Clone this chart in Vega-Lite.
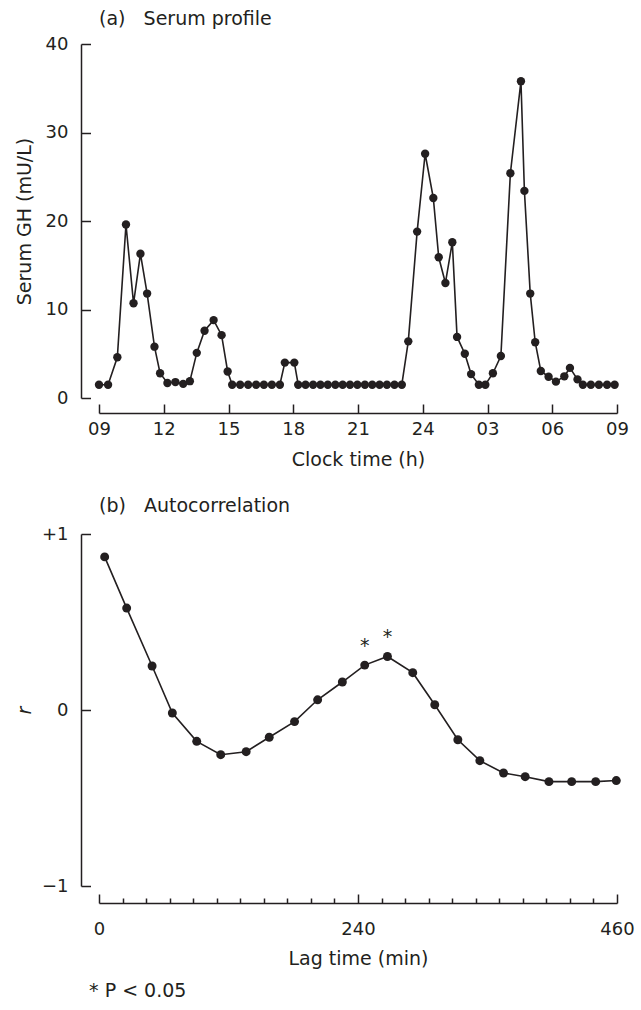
{
  "$schema": "https://vega.github.io/schema/vega-lite/v6.json",
  "padding": {"left": 15, "top": 10, "right": 10, "bottom": 6},
  "spacing": 28,
  "title": {"text": "* P < 0.05", "orient": "bottom", "anchor": "start", "frame": "bounds", "dx": 74, "offset": 14, "fontSize": 19},
  "datasets": {
    "serum": [
      {"t": 0.00, "gh": 1.5}, {"t": 0.42, "gh": 1.5}, {"t": 0.85, "gh": 4.6}, {"t": 1.25, "gh": 19.6},
      {"t": 1.60, "gh": 10.7}, {"t": 1.92, "gh": 16.3}, {"t": 2.23, "gh": 11.8}, {"t": 2.57, "gh": 5.8},
      {"t": 2.83, "gh": 2.8}, {"t": 3.17, "gh": 1.7}, {"t": 3.54, "gh": 1.8}, {"t": 3.90, "gh": 1.6},
      {"t": 4.21, "gh": 1.9}, {"t": 4.53, "gh": 5.1}, {"t": 4.89, "gh": 7.6}, {"t": 5.31, "gh": 8.8},
      {"t": 5.68, "gh": 7.1}, {"t": 5.96, "gh": 3.0}, {"t": 6.17, "gh": 1.5}, {"t": 6.54, "gh": 1.5},
      {"t": 6.91, "gh": 1.5}, {"t": 7.28, "gh": 1.5}, {"t": 7.64, "gh": 1.5}, {"t": 8.01, "gh": 1.5},
      {"t": 8.38, "gh": 1.5}, {"t": 8.61, "gh": 4.0}, {"t": 9.05, "gh": 4.0}, {"t": 9.23, "gh": 1.5},
      {"t": 9.57, "gh": 1.5}, {"t": 9.92, "gh": 1.5}, {"t": 10.26, "gh": 1.5}, {"t": 10.60, "gh": 1.5},
      {"t": 10.95, "gh": 1.5}, {"t": 11.29, "gh": 1.5}, {"t": 11.63, "gh": 1.5}, {"t": 11.97, "gh": 1.5},
      {"t": 12.32, "gh": 1.5}, {"t": 12.66, "gh": 1.5}, {"t": 13.00, "gh": 1.5}, {"t": 13.34, "gh": 1.5},
      {"t": 13.69, "gh": 1.5}, {"t": 14.03, "gh": 1.5}, {"t": 14.33, "gh": 6.4}, {"t": 14.74, "gh": 18.8},
      {"t": 15.11, "gh": 27.6}, {"t": 15.49, "gh": 22.6}, {"t": 15.74, "gh": 15.9}, {"t": 16.05, "gh": 13.0},
      {"t": 16.37, "gh": 17.6}, {"t": 16.59, "gh": 6.9}, {"t": 16.95, "gh": 5.0}, {"t": 17.24, "gh": 2.7},
      {"t": 17.60, "gh": 1.5}, {"t": 17.90, "gh": 1.5}, {"t": 18.25, "gh": 2.8}, {"t": 18.62, "gh": 4.75},
      {"t": 19.06, "gh": 25.4}, {"t": 19.55, "gh": 35.8}, {"t": 19.71, "gh": 23.4}, {"t": 19.98, "gh": 11.8},
      {"t": 20.21, "gh": 6.3}, {"t": 20.47, "gh": 3.05}, {"t": 20.83, "gh": 2.4}, {"t": 21.17, "gh": 1.85},
      {"t": 21.56, "gh": 2.45}, {"t": 21.82, "gh": 3.4}, {"t": 22.17, "gh": 2.1}, {"t": 22.42, "gh": 1.5},
      {"t": 22.79, "gh": 1.5}, {"t": 23.16, "gh": 1.5}, {"t": 23.54, "gh": 1.5}, {"t": 23.89, "gh": 1.5}
    ],
    "acf": [
      {"lag": 24.8, "r": 0.870, "star": ""}, {"lag": 43.5, "r": 0.579, "star": ""},
      {"lag": 65.1, "r": 0.250, "star": ""}, {"lag": 82.3, "r": -0.017, "star": ""},
      {"lag": 103.0, "r": -0.178, "star": ""}, {"lag": 123.4, "r": -0.254, "star": ""},
      {"lag": 145.0, "r": -0.237, "star": ""}, {"lag": 164.6, "r": -0.155, "star": ""},
      {"lag": 186.1, "r": -0.066, "star": ""}, {"lag": 205.7, "r": 0.058, "star": ""},
      {"lag": 226.7, "r": 0.159, "star": ""}, {"lag": 245.7, "r": 0.255, "star": "*"},
      {"lag": 265.0, "r": 0.304, "star": "*"}, {"lag": 286.5, "r": 0.212, "star": ""},
      {"lag": 305.2, "r": 0.030, "star": ""}, {"lag": 324.8, "r": -0.169, "star": ""},
      {"lag": 343.5, "r": -0.288, "star": ""}, {"lag": 363.6, "r": -0.358, "star": ""},
      {"lag": 382.0, "r": -0.379, "star": ""}, {"lag": 402.2, "r": -0.407, "star": ""},
      {"lag": 421.5, "r": -0.407, "star": ""}, {"lag": 441.9, "r": -0.407, "star": ""},
      {"lag": 459.4, "r": -0.401, "star": ""}
    ]
  },
  "vconcat": [
    {
      "width": 518,
      "height": 354,
      "title": {"text": "(a)\u00a0\u00a0\u00a0Serum profile", "anchor": "start", "frame": "group", "offset": 6},
      "data": {"name": "serum"},
      "encoding": {
        "x": {
          "field": "t", "type": "quantitative",
          "scale": {"domain": [0, 24], "nice": false, "zero": false},
          "axis": {
            "values": [0, 3, 6, 9, 12, 15, 18, 21, 24],
            "labelExpr": "(datum.value + 9 > 24 ? datum.value - 15 : datum.value + 9) < 10 ? '0' + (datum.value + 9 > 24 ? datum.value - 15 : datum.value + 9) : '' + (datum.value + 9)",
            "labelFlush": false,
            "title": "Clock time (h)",
            "offset": 15, "tickSize": -9, "labelPadding": 16, "titlePadding": 12
          }
        },
        "y": {
          "field": "gh", "type": "quantitative",
          "scale": {"domain": [0, 40], "nice": false},
          "axis": {
            "values": [0, 10, 20, 30, 40],
            "title": "Serum GH (mU/L)",
            "offset": 18, "tickSize": -9.5, "labelPadding": 22.5, "titlePadding": 11
          }
        }
      },
      "layer": [
        {"mark": {"type": "line", "color": "#231f20", "strokeWidth": 1.6}},
        {"mark": {"type": "point", "filled": true, "size": 70, "color": "#231f20", "opacity": 1}}
      ]
    },
    {
      "width": 518,
      "height": 352,
      "title": {"text": "(b)\u00a0\u00a0\u00a0Autocorrelation", "anchor": "start", "frame": "group", "offset": 9},
      "data": {"name": "acf"},
      "encoding": {
        "x": {
          "field": "lag", "type": "quantitative",
          "scale": {"domain": [20, 460], "nice": false, "zero": false},
          "axis": {
            "values": [20, 40, 60, 80, 100, 120, 140, 160, 180, 200, 220, 240, 260, 280, 300, 320, 340, 360, 380, 400, 420, 440, 460],
            "labelExpr": "datum.value == 20 ? '0' : (datum.value == 240 || datum.value == 460 ? '' + datum.value : '')",
            "labelFlush": false,
            "tickSize": {"condition": {"test": "datum.value == 20 || datum.value == 240 || datum.value == 460", "value": -9}, "value": -5},
            "title": "Lag time (min)",
            "offset": 17, "labelPadding": 26, "titlePadding": 11
          }
        },
        "y": {
          "field": "r", "type": "quantitative",
          "scale": {"domain": [-1, 1], "nice": false},
          "axis": {
            "values": [-1, 0, 1],
            "labelExpr": "datum.value > 0 ? '+1' : (datum.value < 0 ? '\u22121' : '0')",
            "title": "r", "titleFontStyle": "italic",
            "offset": 18, "tickSize": -9.5, "labelPadding": 22.5, "titlePadding": 7
          }
        }
      },
      "layer": [
        {"mark": {"type": "line", "color": "#231f20", "strokeWidth": 1.6}},
        {"mark": {"type": "point", "filled": true, "size": 80, "color": "#231f20", "opacity": 1}},
        {
          "transform": [{"filter": "datum.star != ''"}],
          "mark": {"type": "text", "color": "#231f20", "fontSize": 19, "dy": -19, "baseline": "middle"},
          "encoding": {"text": {"field": "star"}}
        }
      ]
    }
  ],
  "config": {
    "view": {"stroke": null},
    "font": "DejaVu Sans",
    "title": {"font": "DejaVu Sans", "fontSize": 19, "fontWeight": "normal", "color": "#231f20"},
    "axis": {
      "grid": false,
      "domainColor": "#231f20", "domainWidth": 1.5,
      "tickColor": "#231f20", "tickWidth": 1.5,
      "labelColor": "#231f20", "labelFont": "DejaVu Sans", "labelFontSize": 18,
      "titleColor": "#231f20", "titleFont": "DejaVu Sans", "titleFontSize": 19, "titleFontWeight": "normal"
    },
    "text": {"font": "DejaVu Sans"}
  }
}
